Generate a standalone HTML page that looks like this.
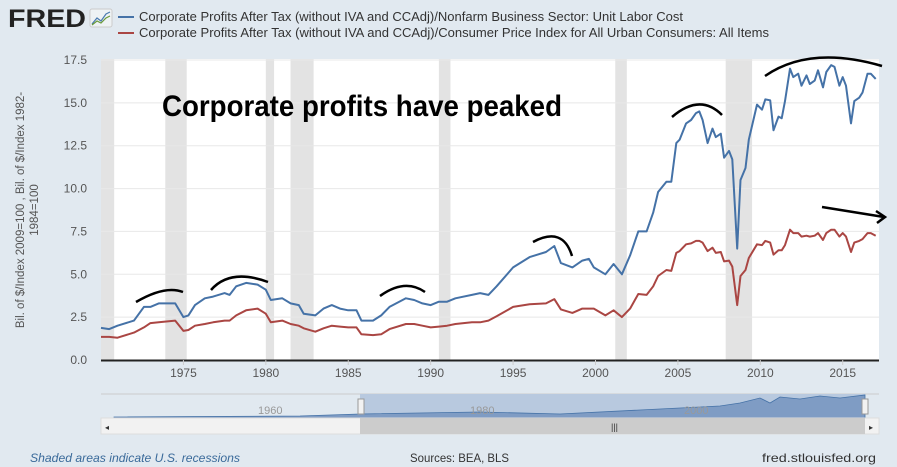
<!DOCTYPE html>
<html><head><meta charset="utf-8"><style>
body{margin:0;width:897px;height:467px;background:#e1e9f0;font-family:"Liberation Sans",sans-serif;overflow:hidden}
svg{display:block}
</style></head><body>
<svg id="c" width="897" height="467">
<g>
<text x="8" y="27" font-size="25" font-weight="bold" fill="#222" font-family="Liberation Sans" textLength="78" lengthAdjust="spacingAndGlyphs">FRED</text>
<rect x="90" y="9" width="22" height="18" rx="2" fill="#eef2f4" stroke="#ccc"/>
<polyline points="92,24 97,18 101,21 106,14 110,12" fill="none" stroke="#4a7aaf" stroke-width="1.2"/>
<polyline points="92,25 97,21 101,23 106,18 110,16" fill="none" stroke="#6a9a3a" stroke-width="1.2"/>
</g>
<g font-size="12.5" fill="#333">
<line x1="118" y1="17" x2="134" y2="17" stroke="#4572a7" stroke-width="2"/>
<text x="139" y="21" textLength="544" lengthAdjust="spacingAndGlyphs">Corporate Profits After Tax (without IVA and CCAdj)/Nonfarm Business Sector: Unit Labor Cost</text>
<line x1="118" y1="33" x2="134" y2="33" stroke="#aa4643" stroke-width="2"/>
<text x="139" y="37" textLength="630" lengthAdjust="spacingAndGlyphs">Corporate Profits After Tax (without IVA and CCAdj)/Consumer Price Index for All Urban Consumers: All Items</text>
</g>
<rect x="101" y="59" width="778" height="302" fill="#fff"/>
<g id="rec"></g><g id="grid"></g><g id="xt"></g><g id="yt"></g>
<text transform="translate(30,210) rotate(-90)" text-anchor="middle" font-size="11.5" fill="#555"><tspan x="0" dy="-6">Bil. of $/Index 2009=100 , Bil. of $/Index 1982-</tspan><tspan x="0" dy="14">1984=100</tspan></text>
<g id="series"></g>
<text x="162" y="116" font-size="30" font-weight="bold" fill="#000" textLength="400" lengthAdjust="spacingAndGlyphs">Corporate profits have peaked</text>
<g fill="none" stroke="#000" stroke-width="2.5">
<path d="M136,302 Q165,285 183,292"/>
<path d="M211,290 Q230,268 268,282"/>
<path d="M380,296 Q405,278 425,292"/>
<path d="M533,242 Q563,226 572,256"/>
<path d="M672,117 Q700,93 722,115"/>
<path d="M765,76 Q810,45 882,66"/>
<path d="M822,207 L884,217 M876,211 L885,217 L877,223"/>
</g>
<g>
<line x1="101" y1="394" x2="879" y2="394" stroke="#ccc"/>
<rect x="360" y="394" width="505" height="24" fill="#b8c9df"/>
<path d="M114,417 L300,416 L360,414 L480,412 L560,414 L640,410 L720,406 L740,403 L760,398 L770,403 L780,397 L800,399 L820,396 L840,398 L865,395 L865,418 L114,418Z" fill="#7f9cc4" stroke="#4572a7" stroke-width="0.8"/>
<text x="258" y="414" font-size="11" fill="#999">1960</text><text x="470" y="414" font-size="11" fill="#999">1980</text><text x="684" y="414" font-size="11" fill="#999">2000</text>
<rect x="358" y="399" width="6" height="15" fill="#f2f2f2" stroke="#999"/>
<rect x="862" y="399" width="6" height="15" fill="#f2f2f2" stroke="#999"/>
<rect x="101" y="418" width="778" height="16" fill="#f2f2f2" stroke="#ddd"/>
<rect x="360" y="418" width="505" height="16" fill="#ccc"/>
<text x="611" y="430" font-size="9" fill="#333">|||</text>
<text x="105" y="430" font-size="8" fill="#333">◂</text><text x="869" y="430" font-size="8" fill="#333">▸</text>
</g>
<text x="30" y="462" font-size="12" font-style="italic" fill="#3a6a9a" textLength="210" lengthAdjust="spacingAndGlyphs">Shaded areas indicate U.S. recessions</text>
<text x="410" y="462" font-size="12" fill="#333" textLength="99" lengthAdjust="spacingAndGlyphs">Sources: BEA, BLS</text>
<text x="762" y="462" font-size="12" fill="#333" textLength="114" lengthAdjust="spacingAndGlyphs">fred.stlouisfed.org</text>
</svg>
<script>
const years=[1970,1970.5,1971,1972,1972.6,1973,1973.5,1974.5,1975,1975.3,1975.7,1976.3,1976.8,1977.5,1977.8,1978.2,1978.8,1979.5,1980,1980.3,1981,1981.5,1982,1982.3,1983,1983.5,1984,1984.5,1985,1985.5,1985.8,1986.5,1987,1987.5,1988.5,1989,1989.5,1990,1990.5,1991,1991.5,1992.5,1993,1993.5,1994,1995,1996,1997,1997.5,1997.9,1998.6,1999.2,1999.6,1999.9,2000.6,2001.1,2001.6,2002.1,2002.6,2003.1,2003.5,2003.8,2004.3,2004.6,2004.9,2005.1,2005.5,2005.8,2006.1,2006.3,2006.5,2006.8,2007.1,2007.3,2007.6,2007.8,2008.1,2008.3,2008.6,2008.8,2009.1,2009.3,2009.8,2010.1,2010.3,2010.6,2010.8,2011.1,2011.3,2011.5,2011.8,2012,2012.3,2012.5,2012.8,2013,2013.3,2013.5,2013.8,2014,2014.3,2014.5,2014.8,2015,2015.2,2015.5,2015.7,2016,2016.2,2016.5,2016.7,2017];
const ulcValues=[1.87,1.8,2.0,2.3,3.1,3.1,3.3,3.3,2.5,2.6,3.2,3.6,3.7,3.9,3.8,4.3,4.5,4.4,4.1,3.5,3.6,3.3,3.2,2.7,2.6,3.0,3.2,3.0,2.9,2.9,2.3,2.3,2.6,3.1,3.6,3.5,3.3,3.2,3.4,3.4,3.6,3.8,3.9,3.8,4.3,5.4,6.0,6.3,6.65,5.65,5.4,5.8,5.9,5.4,5.0,5.6,5.0,6.1,7.5,7.5,8.6,9.8,10.4,10.4,12.65,12.85,13.8,14.0,14.4,14.5,14.0,12.65,13.5,13.0,13.2,11.8,12.2,11.7,6.5,10.5,11.2,12.85,14.9,14.6,15.2,15.15,13.4,14.2,14.1,15.1,17.0,16.5,16.7,16.0,16.6,16.1,16.3,16.9,15.9,16.8,17.2,17.1,16.0,16.5,16.0,13.8,15.1,15.3,15.6,16.7,16.7,16.4];
const cpiValues=[1.35,1.35,1.3,1.6,1.9,2.15,2.2,2.3,1.7,1.75,2.0,2.1,2.2,2.3,2.3,2.6,2.9,3.0,2.7,2.2,2.3,2.1,2.0,1.85,1.65,1.85,2.0,1.95,1.9,1.9,1.5,1.45,1.5,1.8,2.1,2.1,2.0,1.9,1.95,2.0,2.1,2.2,2.2,2.3,2.55,3.1,3.25,3.3,3.55,2.95,2.75,3.0,3.0,3.0,2.6,2.9,2.5,3.0,3.85,3.8,4.3,4.9,5.25,5.2,6.25,6.35,6.75,6.8,6.95,6.95,6.85,6.35,6.55,6.25,6.3,5.75,5.8,5.45,3.2,4.9,5.25,5.95,6.75,6.7,6.95,6.85,6.15,6.4,6.4,6.7,7.6,7.4,7.4,7.2,7.25,7.2,7.25,7.4,7.0,7.4,7.6,7.6,7.2,7.4,7.2,6.3,6.85,6.95,7.05,7.4,7.4,7.25];
const recessionStarts=[1969.9,1973.9,1980.0,1981.5,1990.5,2001.2,2007.9];
const recessionEnds=[1970.8,1975.2,1980.5,1982.9,1991.2,2001.9,2009.5];
const yTicks=[0,2.5,5,7.5,10,12.5,15,17.5];
const yTickLabels=["0.0","2.5","5.0","7.5","10.0","12.5","15.0","17.5"];
const xTicks=[1975,1980,1985,1990,1995,2000,2005,2010,2015];
const NS="http://www.w3.org/2000/svg";
const X0=101,X1=879,YR0=1970,YR1=2017.2,Y0=360,Y1=60,VMAX=17.5;
const xs=y=>X0+(Math.max(y,YR0)-YR0)/(YR1-YR0)*(X1-X0);
const ys=v=>Y0-v/VMAX*(Y0-Y1);
function mk(t,a,p){const e=document.createElementNS(NS,t);for(const k in a)e.setAttribute(k,a[k]);p.appendChild(e);return e;}
const rec=document.getElementById('rec');
recessionStarts.forEach((s,i)=>{const r=mk('rect',{x:xs(s),y:59,width:xs(recessionEnds[i])-xs(s),height:301,fill:'#e3e3e3'},rec);

});
const grid=document.getElementById('grid'),yt=document.getElementById('yt'),xt=document.getElementById('xt');
yTicks.forEach((v,i)=>{if(v>0){const l=mk('line',{x1:X0,x2:X1,y1:ys(v),y2:ys(v),stroke:'#e8e8e8'},grid);

}
const t=mk('text',{x:87,y:ys(v)+4,'text-anchor':'end','font-size':12,fill:'#555'},yt);t.textContent=yTickLabels[i];

});
mk('line',{x1:X0,x2:X1,y1:Y0+0.5,y2:Y0+0.5,stroke:'#222','stroke-width':2},grid);
xTicks.forEach(y=>{mk('line',{x1:xs(y),x2:xs(y),y1:Y0,y2:Y0+5,stroke:'#ccc'},xt);
const t=mk('text',{x:xs(y),y:Y0+17,'text-anchor':'middle','font-size':12,fill:'#555'},xt);t.textContent=y;

});
const ser=document.getElementById('series');
[[ulcValues,'#4572a7','series-unit-labor-cost'],[cpiValues,'#aa4643','series-cpi']].forEach(([vals,c,n])=>{
const p=mk('polyline',{points:vals.map((v,i)=>xs(years[i]).toFixed(1)+','+ys(v).toFixed(1)).join(' '),fill:'none',stroke:c,'stroke-width':2,'stroke-linejoin':'round'},ser);

});
</script>
</body></html>
